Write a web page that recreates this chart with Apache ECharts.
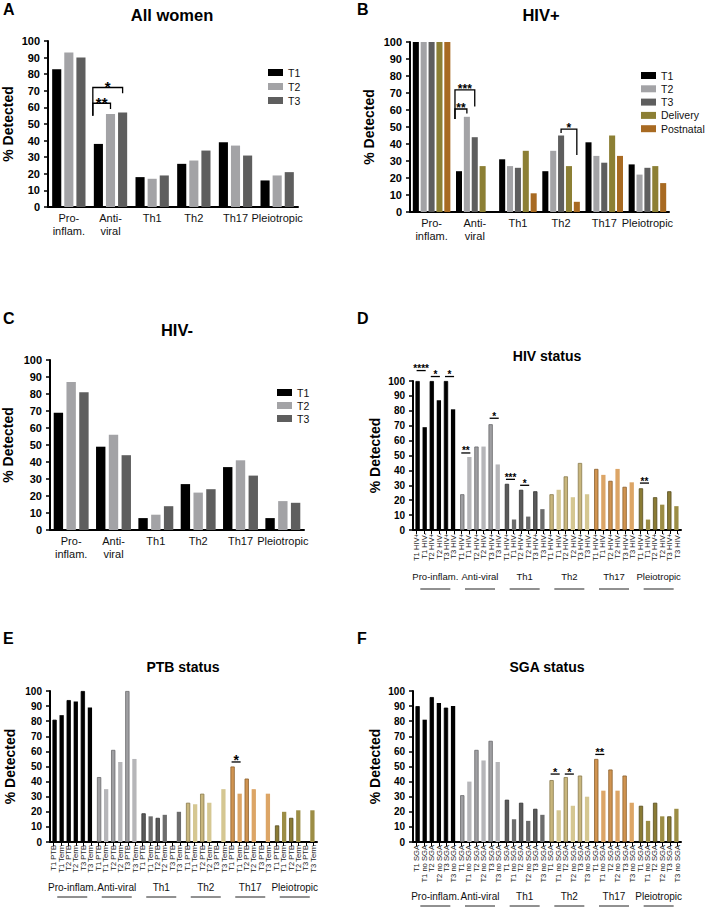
<!DOCTYPE html>
<html><head><meta charset="utf-8">
<script src="https://cdn.jsdelivr.net/npm/echarts@6/dist/echarts.min.js"></script>
<style>html,body{margin:0;padding:0;background:#fff}#c{width:708px;height:908px}</style>
</head><body><div id="c"></div>
<script>
const FONT = "'Liberation Sans', Arial, Helvetica, sans-serif";

// ---------- shared categories ----------
const mainCategories = ['Pro-\ninflam.', 'Anti-\nviral', 'Th1', 'Th2', 'Th17', 'Pleiotropic'];
const groupNames = ['Pro-inflam.', 'Anti-viral', 'Th1', 'Th2', 'Th17', 'Pleiotropic'];

// ---------- A: All women ----------
const allWomenT1 = [83, 38, 18, 26, 39, 16];
const allWomenT2 = [93, 56, 17, 28, 37, 19];
const allWomenT3 = [90, 57, 19, 34, 31, 21];

// ---------- B: HIV+ ----------
const hivPosT1 = [100, 24, 31, 24, 41, 28];
const hivPosT2 = [100, 56, 27, 36, 33, 22];
const hivPosT3 = [100, 44, 26, 45, 29, 26];
const hivPosDelivery = [100, 27, 36, 27, 45, 27];
const hivPosPostnatal = [100, null, 11, 6, 33, 17];

// ---------- C: HIV- ----------
const hivNegT1 = [69, 49, 7, 27, 37, 7];
const hivNegT2 = [87, 56, 9, 22, 41, 17];
const hivNegT3 = [81, 44, 14, 24, 32, 16];

// ---------- D: HIV status ----------
const hivStatusLabels = ['T1 HIV+', 'T1 HIV-', 'T2 HIV+', 'T2 HIV-', 'T3 HIV+', 'T3 HIV-'];
const hivStatusProInflam = [100, 69, 100, 87, 100, 81];
const hivStatusAntiViral = [24, 49, 56, 56, 71, 44];
const hivStatusTh1 = [31, 7, 27, 9, 26, 14];
const hivStatusTh2 = [24, 27, 36, 22, 45, 24];
const hivStatusTh17 = [41, 37, 33, 41, 29, 32];
const hivStatusPleiotropic = [28, 7, 22, 17, 26, 16];

// ---------- E: PTB status ----------
const ptbLabels = ['T1 PTB', 'T1 Term', 'T2 PTB', 'T2 Term', 'T3 PTB', 'T3 Term'];
const ptbProInflam = [81, 84, 94, 93, 100, 89];
const ptbAntiViral = [43, 35, 61, 53, 100, 55];
const ptbTh1 = [19, 17, 16, 18, null, 20];
const ptbTh2 = [26, 25, 32, 26, null, 35];
const ptbTh17 = [50, 32, 42, 35, null, 32];
const ptbPleiotropic = [11, 20, 16, 21, null, 21];

// ---------- F: SGA status ----------
const sgaLabels = ['T1 SGA', 'T1 no SGA', 'T2 SGA', 'T2 no SGA', 'T3 SGA', 'T3 no SGA'];
const sgaProInflam = [90, 81, 96, 92, 89, 90];
const sgaAntiViral = [31, 40, 61, 54, 67, 53];
const sgaTh1 = [28, 15, 26, 14, 22, 18];
const sgaTh2 = [41, 21, 43, 24, 44, 30];
const sgaTh17 = [55, 34, 48, 34, 44, 26];
const sgaPleiotropic = [24, 14, 26, 17, 17, 22];

// ---------- significance annotations ----------
const sigA = [
  {cat: 1, from: 0, to: 1, y: 62.5, yl: 55, yr: 59, text: '**', leftEdge: true},
  {cat: 1, from: 0, to: 2, y: 72, yl: 55, yr: 68.5, text: '*', leftEdge: true}
];
const sigB = [
  {cat: 1, from: 0, to: 1, y: 60.6, yl: 54.7, yr: 58, text: '**', leftEdge: true},
  {cat: 1, from: 0, to: 2, y: 71.8, yl: 54.7, yr: 62, text: '***', leftEdge: true},
  {cat: 3, from: 2, to: 4, y: 48.8, yl: 46.5, yr: 33.5, text: '*'}
];
const sigD = [
  {cat: 0, from: 0, y: 107, text: '****'},
  {cat: 0, from: 2, y: 103, text: '*'},
  {cat: 0, from: 4, y: 103, text: '*'},
  {cat: 1, from: 0, y: 51.7, text: '**'},
  {cat: 1, from: 4, y: 75, text: '*'},
  {cat: 2, from: 0, y: 34, text: '***'},
  {cat: 2, from: 2, y: 30, text: '*'},
  {cat: 5, from: 0, y: 31.5, text: '**'}
];
const sigE = [{cat: 4, from: 0, y: 53, text: '*'}];
const sigF = [
  {cat: 3, from: 0, y: 45, text: '*'},
  {cat: 3, from: 2, y: 45, text: '*'},
  {cat: 4, from: 0, y: 58, text: '**'}
];

// ---------- styling ----------
const greyColors = {T1: '#000000', T2: '#a3a3a6', T3: '#5e5e5e'};
const deliveryColor = '#8c7f34';
const postnatalColor = '#a86a22';
// per group: [darker fill, border, lighter fill]
const groupColors = [
  ['#000000', '#000000', '#000000'],
  ['#9f9fa2', '#6a6a6c', '#b6b6b9'],
  ['#5a5a5a', '#333333', '#6c6c6c'],
  ['#c8b67d', '#8a7b4c', '#d5c792'],
  ['#d09451', '#8c5f2c', '#dca566'],
  ['#8a7b35', '#574c1e', '#9c8d45']
];

function textStyleEl(text, x, y, font, align, vAlign, fill) {
  return {text, x, y, font, align, verticalAlign: vAlign, textAlign: align, textVerticalAlign: vAlign, fill: fill || '#000'};
}

function bracketRender(anns, n, bcg, gap, fontPx) {
  return function (params, api) {
    const a = anns[params.dataIndex];
    const band = api.size([1, 0])[0];
    const groupW = band * (1 - bcg);
    const w = groupW / (n + (n - 1) * gap);
    const c = api.coord([a.cat, 0])[0];
    const bx = j => c - groupW / 2 + w / 2 + j * w * (1 + gap);
    const xl = a.leftEdge ? bx(a.from) - w / 2 - 1 : bx(a.from);
    const xr = bx(a.to);
    const y = api.coord([a.cat, a.y])[1];
    const yl = api.coord([a.cat, a.yl])[1];
    const yr = api.coord([a.cat, a.yr])[1];
    return {type: 'group', children: [
      {type: 'polyline', shape: {points: [[xl, yl], [xl, y], [xr, y], [xr, yr]]}, style: {stroke: '#000', lineWidth: 1.3, fill: null}},
      {type: 'text', style: textStyleEl(a.text, (xl + xr) / 2, y - 1, 'bold ' + fontPx + 'px ' + FONT, 'center', 'middle')}
    ]};
  };
}

function pairLineRender(anns, n, bcg, gap, fontPx) {
  return function (params, api) {
    const a = anns[params.dataIndex];
    const band = api.size([1, 0])[0];
    const groupW = band * (1 - bcg);
    const w = groupW / (n + (n - 1) * gap);
    const c = api.coord([a.cat, 0])[0];
    const bx = j => c - groupW / 2 + w / 2 + j * w * (1 + gap);
    const xl = bx(a.from) - 1, xr = bx(a.from + 1) + 1;
    const y = api.coord([a.cat, a.y])[1];
    return {type: 'group', children: [
      {type: 'line', shape: {x1: xl, y1: y, x2: xr, y2: y}, style: {stroke: '#000', lineWidth: 1.3}},
      {type: 'text', style: textStyleEl(a.text, (xl + xr) / 2, y - 2, 'bold ' + fontPx + 'px ' + FONT, 'center', 'middle')}
    ]};
  };
}

function groupLabelRender(nameOff, lineOff, fontPx) {
  return function (params, api) {
    const i = params.dataIndex;
    const p = api.coord([i, 0]);
    return {type: 'group', children: [
      {type: 'text', style: textStyleEl(groupNames[i], p[0], p[1] + nameOff, fontPx + 'px ' + FONT, 'center', 'middle', '#111')},
      {type: 'line', shape: {x1: p[0] - 15, y1: p[1] + lineOff, x2: p[0] + 15, y2: p[1] + lineOff}, style: {stroke: '#222', lineWidth: 1}}
    ]};
  };
}

// ---------- grids ----------
const grids = [
  {left: 48, top: 41, width: 250, height: 166},
  {left: 410, top: 42, width: 259, height: 170},
  {left: 49, top: 360, width: 255, height: 170},
  {left: 413, top: 381, width: 268, height: 149},
  {left: 50, top: 691, width: 267, height: 151},
  {left: 413, top: 691, width: 268, height: 151}
];

function yAx(gi, fontSize, nameGap) {
  return {
    type: 'value', gridIndex: gi, min: 0, max: 100, interval: 10,
    axisLine: {show: true, lineStyle: {color: '#000', width: 2}},
    axisTick: {show: true, length: 4, lineStyle: {color: '#000', width: 1.5}},
    splitLine: {show: false},
    axisLabel: {color: '#000', fontWeight: 'bold', fontSize, fontFamily: FONT, margin: 8},
    name: '% Detected', nameLocation: 'middle', nameGap,
    nameTextStyle: {color: '#000', fontWeight: 'bold', fontSize: 14, fontFamily: FONT}
  };
}
function mainX(gi) {
  return {
    type: 'category', gridIndex: gi, data: mainCategories,
    axisLine: {lineStyle: {color: '#000', width: 2}}, axisTick: {show: false},
    axisLabel: {color: '#111', fontSize: 11, fontFamily: FONT, margin: 4, lineHeight: 13, interval: 0}
  };
}
function groupX(gi) {
  return {
    type: 'category', gridIndex: gi, data: groupNames,
    axisLine: {lineStyle: {color: '#000', width: 2}}, axisTick: {show: false}, axisLabel: {show: false}
  };
}
function labelX(gi, labels) {
  const data = [];
  groupNames.forEach(() => labels.forEach(l => data.push(l)));
  return {
    type: 'category', gridIndex: gi, data, position: 'bottom',
    axisLine: {show: false},
    axisTick: {show: true, alignWithLabel: true, interval: 0, length: 4, lineStyle: {color: '#000', width: 1}},
    axisLabel: {interval: 0, rotate: 90, fontSize: 7.6, color: '#222', margin: 3, fontFamily: FONT}
  };
}

const xAxis = [mainX(0), mainX(1), mainX(2), groupX(3), labelX(3, hivStatusLabels), groupX(4), labelX(4, ptbLabels), groupX(5), labelX(5, sgaLabels)];
const yAxis = [yAx(0, 11, 33), yAx(1, 11, 34), yAx(2, 11, 35), yAx(3, 10, 31), yAx(4, 10, 33), yAx(5, 10, 31)];

const series = [];
function simpleBar(name, data, xi, color, bcg, gap) {
  series.push({type: 'bar', name, data, xAxisIndex: xi, yAxisIndex: xi, barCategoryGap: bcg, barGap: gap,
    itemStyle: {color}, emphasis: {disabled: true}});
}
// A
simpleBar('T1', allWomenT1, 0, greyColors.T1, '20%', '33%');
simpleBar('T2', allWomenT2, 0, greyColors.T2, '20%', '33%');
simpleBar('T3', allWomenT3, 0, greyColors.T3, '20%', '33%');
// B
simpleBar('T1', hivPosT1, 1, greyColors.T1, '13%', '30%');
simpleBar('T2', hivPosT2, 1, greyColors.T2, '13%', '30%');
simpleBar('T3', hivPosT3, 1, greyColors.T3, '13%', '30%');
simpleBar('Delivery', hivPosDelivery, 1, deliveryColor, '13%', '30%');
simpleBar('Postnatal', hivPosPostnatal, 1, postnatalColor, '13%', '30%');
// C
simpleBar('T1', hivNegT1, 2, greyColors.T1, '17.5%', '36%');
simpleBar('T2', hivNegT2, 2, greyColors.T2, '17.5%', '36%');
simpleBar('T3', hivNegT3, 2, greyColors.T3, '17.5%', '36%');

function statusBars(labels, groups, xi, yi) {
  labels.forEach((lab, j) => {
    series.push({
      type: 'bar', name: lab, xAxisIndex: xi, yAxisIndex: yi, barCategoryGap: '11%', barGap: '65%',
      emphasis: {disabled: true},
      data: groups.map((g, k) => {
        const c = groupColors[k];
        const dark = j % 2 === 0;
        return {value: g[j], itemStyle: {color: dark ? c[0] : c[2], borderColor: dark ? c[1] : c[2], borderWidth: dark ? 0.8 : 0}};
      })
    });
  });
}
statusBars(hivStatusLabels, [hivStatusProInflam, hivStatusAntiViral, hivStatusTh1, hivStatusTh2, hivStatusTh17, hivStatusPleiotropic], 3, 3);
statusBars(ptbLabels, [ptbProInflam, ptbAntiViral, ptbTh1, ptbTh2, ptbTh17, ptbPleiotropic], 5, 4);
statusBars(sgaLabels, [sgaProInflam, sgaAntiViral, sgaTh1, sgaTh2, sgaTh17, sgaPleiotropic], 7, 5);

function customSeries(xi, yi, data, renderItem) {
  series.push({type: 'custom', xAxisIndex: xi, yAxisIndex: yi, clip: false, silent: true, z: 10,
    data, renderItem, encode: {x: 0, y: 1}});
}
customSeries(0, 0, sigA.map(a => [a.cat, a.y]), bracketRender(sigA, 3, 0.20, 0.33, 15));
customSeries(1, 1, sigB.map(a => [a.cat, a.y]), bracketRender(sigB, 5, 0.13, 0.30, 12));
customSeries(3, 3, sigD.map(a => [a.cat, a.y]), pairLineRender(sigD, 6, 0.11, 0.65, 10));
customSeries(5, 4, sigE.map(a => [a.cat, a.y]), pairLineRender(sigE, 6, 0.11, 0.65, 14));
customSeries(7, 5, sigF.map(a => [a.cat, a.y]), pairLineRender(sigF, 6, 0.11, 0.65, 11));
customSeries(3, 3, groupNames.map((g, i) => [i, 0]), groupLabelRender(46, 59, 9.5));
customSeries(5, 4, groupNames.map((g, i) => [i, 0]), groupLabelRender(45, 55, 10));
customSeries(7, 5, groupNames.map((g, i) => [i, 0]), groupLabelRender(54, 64, 10));

function legend(left, top, names, gap) {
  return {left, top, orient: 'vertical', data: names, itemWidth: 15, itemHeight: 7, itemGap: gap, icon: 'rect',
    selectedMode: false, padding: 0, inactiveColor: '#111',
    textStyle: {fontSize: 10.5, lineHeight: 10, fontFamily: FONT, color: '#111'}};
}

function txt(text, x, y, size, align) {
  return {type: 'text', x, y, style: {text, font: 'bold ' + size + 'px ' + FONT, fill: '#000',
    align: align, verticalAlign: 'middle', textAlign: align, textVerticalAlign: 'middle'}};
}

const option = {
  animation: false,
  backgroundColor: '#fff',
  textStyle: {fontFamily: FONT},
  grid: grids,
  xAxis, yAxis, series,
  legend: [
    legend(268, 67, ['T1', 'T2', 'T3'], 3),
    legend(641, 70, ['T1', 'T2', 'T3', 'Delivery', 'Postnatal'], 2.3),
    legend(277, 387, ['T1', 'T2', 'T3'], 2)
  ],
  graphic: [
    txt('A', 3, 9, 16, 'left'), txt('All women', 172, 15, 16.5, 'center'),
    txt('B', 357, 9, 16, 'left'), txt('HIV+', 541, 15, 16.5, 'center'),
    txt('C', 3, 318, 16, 'left'), txt('HIV-', 177, 330, 16.5, 'center'),
    txt('D', 357, 318, 16, 'left'), txt('HIV status', 547, 356, 14, 'center'),
    txt('E', 3, 638, 16, 'left'), txt('PTB status', 183, 667, 14, 'center'),
    txt('F', 357, 638, 16, 'left'), txt('SGA status', 547, 667, 14, 'center')
  ]
};

const chart = echarts.init(document.getElementById('c'), null, {renderer: 'svg', width: 708, height: 908});
chart.setOption(option);
</script></body></html>
